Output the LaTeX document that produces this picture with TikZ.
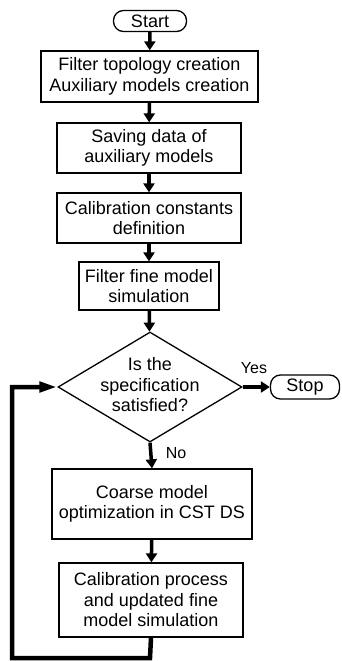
\documentclass[tikz,border=0pt]{standalone}
\usepackage{fontspec}
\setmainfont{Liberation Sans}
\usetikzlibrary{shapes.geometric,arrows.meta}
\tikzset{
  box/.style={draw, line width=1.3pt, align=center, inner sep=0pt, font=\fontsize{18}{20.5}\selectfont},
  term/.style={box, rounded corners=10pt},
  dia/.style={draw, diamond, line width=1.3pt, inner sep=0pt, minimum width=184pt, minimum height=110pt, aspect=1.67},
  txt/.style={align=center, inner sep=0pt, font=\fontsize{18}{20.5}\selectfont},
  lbl/.style={inner sep=0pt, font=\fontsize{16}{18}\selectfont},
  flow/.style={line width=3.5pt, -{Triangle[length=9pt,width=11pt]}},
  back/.style={line width=4.5pt, -{Triangle[length=18pt,width=10pt]}}
}
\begin{document}
\begin{tikzpicture}[x=1pt,y=-1pt]
\useasboundingbox (0,0) rectangle (341,661);
\node[term, minimum width=73pt, minimum height=21pt] (start) at (150,21) {Start};
\node[box, minimum width=217pt, minimum height=51pt] (b1) at (149.5,76.5) {Filter topology creation\\Auxiliary models creation};
\node[box, minimum width=184pt, minimum height=50pt] (b2) at (149,148) {Saving data of\\auxiliary models};
\node[box, minimum width=184pt, minimum height=50pt] (b3) at (149,218) {Calibration constants\\definition};
\node[box, minimum width=140pt, minimum height=48pt] (b4) at (149,286) {Filter fine model\\simulation};
\node[dia] (d) at (150,387) {};
\node[txt] (dt) at (150,385) {Is the\\specification\\satisfied?};
\node[term, minimum width=69pt, minimum height=24pt] (stop) at (305,387) {Stop};
\node[box, minimum width=200pt, minimum height=70pt] (b5) at (152,504) {Coarse model\\optimization in CST DS};
\node[box, minimum width=184pt, minimum height=74pt] (b6) at (151,600) {Calibration process\\and updated fine\\model simulation};
\node[lbl] (yes) at (254,368) {Yes};
\node[lbl] (no) at (176,453) {No};
\coordinate (c1) at (150,658);
\coordinate (c2) at (12,658);
\draw[flow] (start) -- (b1);
\draw[flow] (b1) -- (b2);
\draw[flow] (b2) -- (b3);
\draw[flow] (b3) -- (b4);
\draw[flow] (b4) -- (d);
\draw[flow] (d.east) -- (stop);
\draw[flow] (d.south) -- (b5.north);
\draw[flow] (b5) -- (b6);
\draw[back] (b6.south) -- (c1) -- (c2) |- (d.west);
\end{tikzpicture}
\end{document}
